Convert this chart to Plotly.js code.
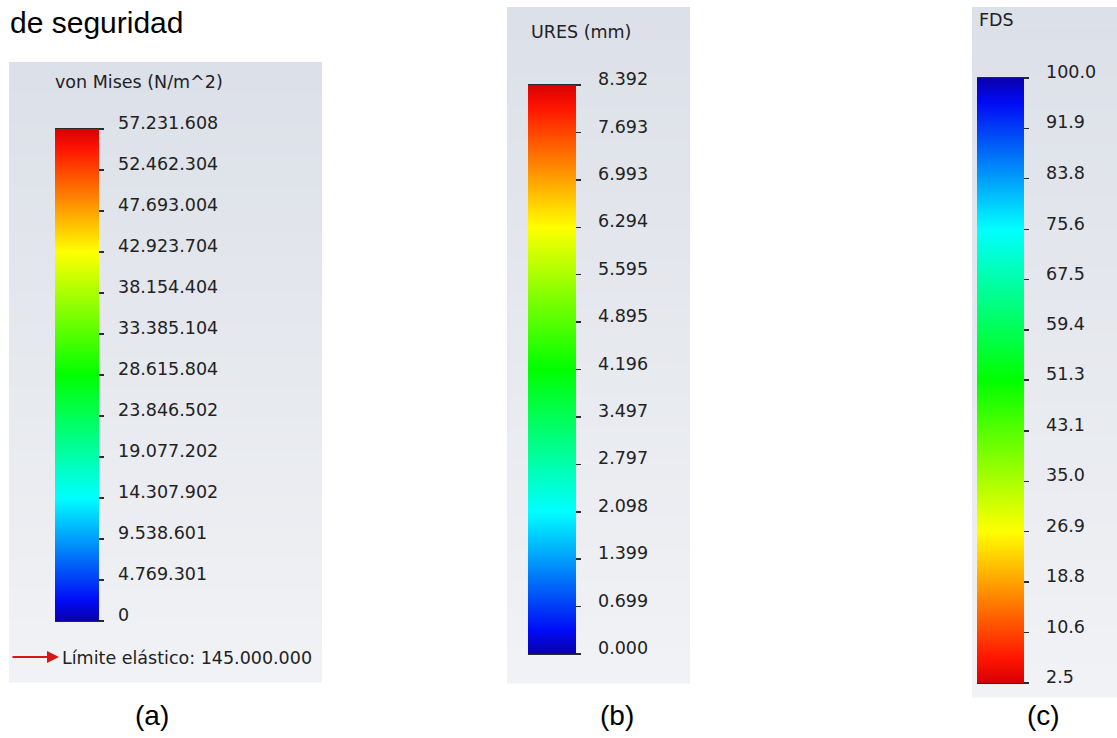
<!DOCTYPE html>
<html>
<head>
<meta charset="utf-8">
<script src="https://cdn.plot.ly/plotly-3.0.1.min.js"></script>
<style>html,body{margin:0;padding:0;background:#fff;}#chart{width:1117px;height:738px;}</style>
</head>
<body>
<div id="chart"></div>
<script>
// ---- data ----
const vmTitle = 'von Mises (N/m^2)';
const vmValues = [0, 4769301, 9538601, 14307902, 19077202, 23846502, 28615804, 33385104, 38154404, 42923704, 47693004, 52462304, 57231608];
const vmLabels = ['0', '4.769.301', '9.538.601', '14.307.902', '19.077.202', '23.846.502', '28.615.804', '33.385.104', '38.154.404', '42.923.704', '47.693.004', '52.462.304', '57.231.608'];
const vmLimit = 'Límite elástico: 145.000.000';

const uresTitle = 'URES (mm)';
const uresValues = [0, 0.699, 1.399, 2.098, 2.797, 3.497, 4.196, 4.895, 5.595, 6.294, 6.993, 7.693, 8.392];
const uresLabels = ['0.000', '0.699', '1.399', '2.098', '2.797', '3.497', '4.196', '4.895', '5.595', '6.294', '6.993', '7.693', '8.392'];

const fdsTitle = 'FDS';
const fdsValues = [2.5, 10.6, 18.8, 26.9, 35.0, 43.1, 51.3, 59.4, 67.5, 75.6, 83.8, 91.9, 100.0];
const fdsLabels = ['2.5', '10.6', '18.8', '26.9', '35.0', '43.1', '51.3', '59.4', '67.5', '75.6', '83.8', '91.9', '100.0'];

const panelLetters = ['(a)', '(b)', '(c)'];
const headerText = 'de seguridad';

// ---- styling / layout ----
const W = 1117, H = 738;
const fx = p => p / W;
const fy = p => 1 - p / H;

const rainbow = [
  [0, 'rgb(10,0,170)'], [0.04, 'rgb(0,10,245)'], [0.25, 'rgb(0,255,255)'],
  [0.5, 'rgb(0,255,0)'], [0.75, 'rgb(255,255,0)'], [0.96, 'rgb(255,20,0)'], [1, 'rgb(215,0,0)']
];
const rainbowRev = rainbow.map(s => [1 - s[0], s[1]]).reverse();

const LFONT = {family: 'DejaVu Sans', size: 17.5, color: '#222222'};

const panels = [
  {vals: vmValues, labs: vmLabels, title: vmTitle, cs: rainbow,
   bar: {l: 55, r: 99, t: 129, b: 621}, labX: 120, titleX: 53, titleY: 82,
   box: {l: 9, r: 322, t: 62, b: 682}, letterX: 152},
  {vals: uresValues, labs: uresLabels, title: uresTitle, cs: rainbow,
   bar: {l: 528, r: 576, t: 85, b: 654}, labX: 600, titleX: 529, titleY: 32,
   box: {l: 507, r: 690, t: 7, b: 683}, letterX: 617},
  {vals: fdsValues, labs: fdsLabels, title: fdsTitle, cs: rainbowRev,
   bar: {l: 977, r: 1024, t: 78, b: 683}, labX: 1048, titleX: 977, titleY: 20,
   box: {l: 972, r: 1117, t: 7, b: 697}, letterX: 1043}
];

const traces = [];
const shapes = [];
const annotations = [];
const layout = {
  width: W, height: H,
  margin: {l: 0, r: 0, t: 0, b: 0},
  paper_bgcolor: '#ffffff', plot_bgcolor: 'rgba(0,0,0,0)',
  showlegend: false,
  xaxis: {visible: false, range: [0, 1], domain: [0, 1], fixedrange: true},
  shapes: shapes, annotations: annotations
};

function lerp(a, b, t) { return Math.round(a + (b - a) * t); }

panels.forEach((p, i) => {
  const yname = i === 0 ? 'y' : 'y' + (i + 1);
  const axname = i === 0 ? 'yaxis' : 'yaxis' + (i + 1);
  const vmin = Math.min(...p.vals), vmax = Math.max(...p.vals);
  const shift = 6;

  // background gradient box
  const n = 40, c0 = [220, 224, 232], c1 = [241, 242, 245];
  for (let k = 0; k < n; k++) {
    const t = k / (n - 1);
    const y0 = p.box.t + (p.box.b - p.box.t) * k / n;
    const y1 = p.box.t + (p.box.b - p.box.t) * (k + 1) / n;
    shapes.push({type: 'rect', xref: 'paper', yref: 'paper', layer: 'below',
      x0: fx(p.box.l), x1: fx(p.box.r), y0: fy(y0), y1: fy(y1 + 0.5),
      line: {width: 0},
      fillcolor: `rgb(${lerp(c0[0], c1[0], t)},${lerp(c0[1], c1[1], t)},${lerp(c0[2], c1[2], t)})`});
  }

  // label axis (labels sit slightly above their tick marks)
  layout[axname] = {
    domain: [fy(p.bar.b - shift), fy(p.bar.t - shift)],
    range: [vmin, vmax], anchor: 'free', position: fx(p.labX - 3), side: 'right',
    showgrid: false, zeroline: false, showline: false, ticks: '',
    tickmode: 'array', tickvals: p.vals, ticktext: p.labs,
    tickfont: LFONT, fixedrange: true
  };

  traces.push({
    type: 'scatter', mode: 'markers', x: [0.5], y: [vmin], yaxis: yname, hoverinfo: 'skip',
    marker: {
      size: 1, opacity: 0, color: [vmin], cmin: vmin, cmax: vmax, colorscale: p.cs, showscale: true,
      colorbar: {
        x: fx(p.bar.l), xanchor: 'left', xpad: 0,
        y: fy(p.bar.t), yanchor: 'top', ypad: 0,
        thicknessmode: 'pixels', thickness: p.bar.r - p.bar.l,
        lenmode: 'pixels', len: p.bar.b - p.bar.t,
        outlinewidth: 0, borderwidth: 0,
        tickmode: 'array', tickvals: p.vals, ticktext: p.labs.map(() => ''),
        ticks: 'outside', ticklen: 5, tickwidth: 1.5, tickcolor: '#2a2a2a',
        showticklabels: false
      }
    }
  });

  // dark edges at top and bottom of the bar
  [p.bar.t, p.bar.b].forEach(yy => {
    shapes.push({type: 'line', xref: 'paper', yref: 'paper',
      x0: fx(p.bar.l), x1: fx(p.bar.r + 5), y0: fy(yy), y1: fy(yy),
      line: {color: '#2a2a2a', width: 2}});
  });

  // title
  annotations.push({xref: 'paper', yref: 'paper', x: fx(p.titleX), y: fy(p.titleY),
    xanchor: 'left', yanchor: 'middle', showarrow: false, text: p.title,
    font: {family: 'DejaVu Sans', size: 17.5, color: '#222222'}});

  // panel letter
  annotations.push({xref: 'paper', yref: 'paper', x: fx(p.letterX), y: fy(715),
    xanchor: 'center', yanchor: 'middle', showarrow: false, text: panelLetters[i],
    font: {family: 'Liberation Sans, Arial', size: 28, color: '#000'}});
});

// elastic limit line with arrow
annotations.push({xref: 'paper', yref: 'paper', x: fx(60), y: fy(658),
  xanchor: 'left', yanchor: 'middle', showarrow: false, text: vmLimit,
  font: {family: 'DejaVu Sans', size: 17.5, color: '#222222'}});
annotations.push({xref: 'paper', yref: 'paper', x: fx(59), y: fy(657), ax: -48, ay: 0,
  text: '', showarrow: true, arrowhead: 2, arrowsize: 1.2, arrowwidth: 2, arrowcolor: '#d81818'});

// header text
annotations.push({xref: 'paper', yref: 'paper', x: fx(8), y: fy(22),
  xanchor: 'left', yanchor: 'middle', showarrow: false, text: headerText,
  font: {family: 'Liberation Sans, Arial', size: 30, color: '#000'}});

Plotly.newPlot('chart', traces, layout, {displayModeBar: false, staticPlot: true});
</script>
</body>
</html>
